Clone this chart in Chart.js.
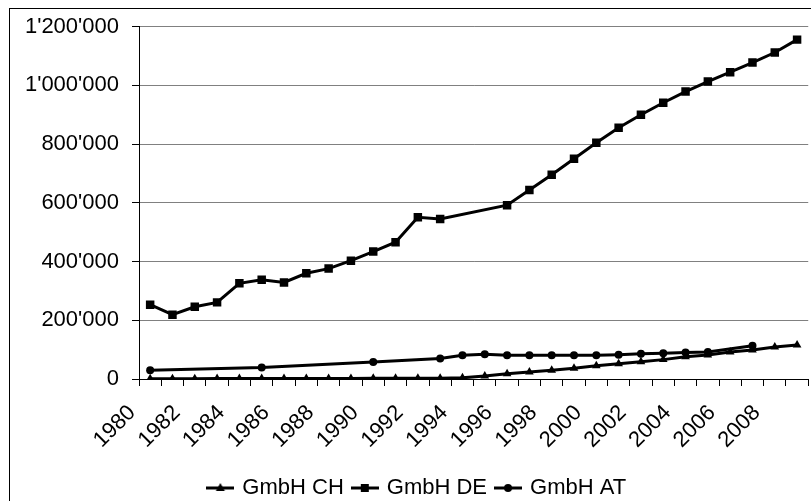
<!DOCTYPE html>
<html>
<head>
<meta charset="utf-8">
<script src="https://cdn.jsdelivr.net/npm/chart.js"></script>
<style>
html, body { margin:0; padding:0; background:#fff; overflow:hidden; }
#box { position:absolute; left:9px; top:8px; width:830px; height:520px; border-left:1px solid #000; border-top:1px solid #000; }
#chart { position:absolute; left:0; top:0; }
</style>
</head>
<body>
<div id="box"><canvas id="chart" width="820" height="500"></canvas></div>
<script>
// Daten
var years = ["1980","1981","1982","1983","1984","1985","1986","1987","1988","1989",
             "1990","1991","1992","1993","1994","1995","1996","1997","1998","1999",
             "2000","2001","2002","2003","2004","2005","2006","2007","2008","2009"];

var gmbhCH = [1000, 1000, 1200, 1300, 1500, 1600, 1700, 1800, 2000, 2100,
              2200, 2400, 2600, 2900, 4000, 10000, 18000, 24000, 30000, 37000,
              45000, 52000, 59000, 66000, 76000, 82000, 92000, 99000, 109000, 116000];

var gmbhDE = [253000, 219000, 246000, 261000, 326000, 338000, 329000, 360000, 376000, 403000,
              434000, 466000, 551000, 545000, null, null, 592000, 644000, 696000, 750000,
              805000, 856000, 900000, 941000, 979000, 1013000, 1045000, 1078000, 1112000, 1156000];

var gmbhAT = [30000, null, null, null, null, 39000, null, null, null, null,
              58000, null, null, 70000, 81000, 84000, 81000, 81000, 81000, 81000,
              81000, 83000, 86000, 88000, 90000, 92000, null, 113000, null, null];

var seriesNames = ["GmbH CH", "GmbH DE", "GmbH AT"];
var seriesStyles = ["triangle", "rect", "circle"];
var seriesRadius = [5, 6, 4];

var font = { family: "'Liberation Sans', Arial, sans-serif", size: 22 };

// 1'200'000
function fmt(v) {
    return String(v).replace(/\B(?=(\d{3})+(?!\d))/g, "'");
}

// Legenden-Symbol: Linie mit Marker
function legendIcon(style) {
    var c = document.createElement("canvas");
    c.width = 28; c.height = 12;
    var g = c.getContext("2d");
    g.strokeStyle = "#000"; g.fillStyle = "#000"; g.lineWidth = 3;
    g.beginPath(); g.moveTo(0, 6); g.lineTo(28, 6); g.stroke();
    g.beginPath();
    if (style === "rect") g.rect(10, 2, 8, 8);
    else if (style === "circle") g.arc(14, 6, 4, 0, Math.PI * 2);
    else { g.moveTo(14, 1); g.lineTo(18.5, 9); g.lineTo(9.5, 9); g.closePath(); }
    g.fill();
    return c;
}
var icons = seriesStyles.map(legendIcon);

function ds(i, data) {
    return {
        label: seriesNames[i], data: data,
        borderColor: "#000", backgroundColor: "#000", borderWidth: 3,
        pointStyle: seriesStyles[i], pointRadius: seriesRadius[i],
        pointBackgroundColor: "#000", pointBorderColor: "#000", pointBorderWidth: 0,
        spanGaps: true, tension: 0, fill: false
    };
}

Chart.defaults.color = "#000";

new Chart(document.getElementById("chart"), {
    type: "line",
    data: { labels: years, datasets: [ds(0, gmbhCH), ds(1, gmbhDE), ds(2, gmbhAT)] },
    options: {
        responsive: false,
        animation: false,
        layout: { padding: { left: 10, right: 14.5, top: 17.7, bottom: 0 } },
        plugins: {
            tooltip: { enabled: false },
            legend: {
                position: "bottom",
                labels: {
                    font: font, color: "#000", padding: 10,
                    usePointStyle: true, pointStyleWidth: 22,
                    generateLabels: function (chart) {
                        var items = Chart.defaults.plugins.legend.labels.generateLabels(chart);
                        items.forEach(function (it) { it.pointStyle = icons[it.datasetIndex]; });
                        return items;
                    }
                }
            }
        },
        scales: {
            x: {
                type: "category", offset: true,
                grid: { offset: true, drawOnChartArea: false, drawTicks: true, tickLength: 7, tickColor: "#000" },
                border: { color: "#000", width: 1 },
                ticks: {
                    font: font, color: "#000", autoSkip: false,
                    minRotation: 45, maxRotation: 45, padding: 14, labelOffset: -18,
                    callback: function (v, i) { return i % 2 === 0 ? this.getLabelForValue(v) : ""; }
                },
                afterFit: function (s) { s.height = 88; }
            },
            y: {
                min: 0, max: 1200000,
                grid: {
                    color: function (ctx) { return ctx.tick && ctx.tick.value === 0 ? "#000" : "#808080"; },
                    tickColor: "#000", tickLength: 7, lineWidth: 1
                },
                border: { color: "#000", width: 1 },
                ticks: { font: font, color: "#000", stepSize: 200000, padding: 13, callback: fmt },
                afterFit: function (s) { s.width = 119; s.paddingTop = 0; s.paddingBottom = 0; }
            }
        }
    }
});
</script>
</body>
</html>
